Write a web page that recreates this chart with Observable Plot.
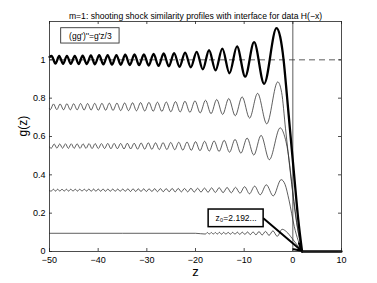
<!DOCTYPE html>
<html><head><meta charset="utf-8">
<script src="https://cdn.jsdelivr.net/npm/d3@7"></script>
<script src="https://cdn.jsdelivr.net/npm/@observablehq/plot@0.6"></script>
<style>body{margin:0;background:#fff}</style>
</head><body><div id="chart"></div>
<script>
const titleText = "m=1: shooting shock similarity profiles with interface for data H(\u2212x)";
const legendText = "(gg')''=g'z/3";
const annotText = "z\u2080=2.192...";
const xTicks = [-50, -40, -30, -20, -10, 0, 10];
const yTicks = [0, 0.2, 0.4, 0.6, 0.8, 1];

// curve with level ~1 (thick)
const zA = [-50,-49.57,-48.78,-48.01,-47.21,-46.42,-45.62,-44.81,-44.00,-43.19,-42.34,-41.50,-40.67,-39.79,-38.93,-38.05,-37.16,-36.25,-35.36,-34.44,-33.49,-32.54,-31.58,-30.61,-29.62,-28.61,-27.59,-26.54,-25.48,-24.40,-23.28,-22.14,-20.96,-19.76,-18.50,-17.22,-15.88,-14.49,-13.02,-11.47,-9.79,-7.96,-5.90,-3.36,-2.6,-1.9,-1.2,-0.6,0.3,1.1,1.9];
const gA = [1.015,1.020,0.980,1.020,0.979,1.021,0.979,1.021,0.978,1.022,0.978,1.023,0.977,1.024,0.976,1.025,0.975,1.025,0.974,1.027,0.973,1.028,0.972,1.029,0.970,1.031,0.968,1.033,0.966,1.035,0.964,1.038,0.961,1.042,0.950,1.050,0.945,1.058,0.930,1.070,0.912,1.092,0.875,1.165,1.12,1.0,0.81,0.64,0.39,0.17,0];

// level ~0.75
const zB = [-50,-49.84,-49.18,-48.49,-47.82,-47.11,-46.43,-45.72,-45.04,-44.32,-43.61,-42.89,-42.17,-41.45,-40.71,-39.97,-39.23,-38.46,-37.71,-36.95,-36.14,-35.37,-34.56,-33.76,-32.93,-32.13,-31.28,-30.43,-29.57,-28.69,-27.82,-26.91,-26.00,-25.07,-24.11,-23.15,-22.17,-21.15,-20.11,-19.04,-17.94,-16.81,-15.64,-14.42,-13.17,-11.83,-10.42,-8.89,-7.24,-5.36,-3.10,-2.3,-1.5,-0.5,0.6,1.9];
const gB = [0.745,0.740,0.770,0.740,0.770,0.739,0.771,0.739,0.771,0.739,0.772,0.738,0.772,0.738,0.773,0.737,0.773,0.737,0.774,0.736,0.774,0.735,0.775,0.735,0.776,0.734,0.777,0.733,0.778,0.732,0.779,0.731,0.780,0.729,0.782,0.728,0.784,0.726,0.786,0.723,0.789,0.719,0.793,0.715,0.798,0.708,0.807,0.696,0.825,0.666,0.885,0.83,0.64,0.41,0.18,0];

// level ~0.55
const zC = [-50,-49.63,-49.04,-48.48,-47.90,-47.31,-46.72,-46.13,-45.53,-44.94,-44.33,-43.71,-43.11,-42.49,-41.87,-41.25,-40.62,-39.97,-39.33,-38.68,-38.03,-37.38,-36.72,-36.05,-35.38,-34.69,-34.01,-33.32,-32.60,-31.90,-31.17,-30.44,-29.70,-28.97,-28.21,-27.44,-26.67,-25.88,-25.09,-24.26,-23.44,-22.61,-21.74,-20.87,-19.99,-19.08,-18.13,-17.17,-16.18,-15.16,-14.11,-13.01,-11.88,-10.67,-9.40,-8.02,-6.53,-4.83,-2.60,-1.8,-1.0,0.0,1.0,1.9];
const gC = [0.545,0.539,0.561,0.539,0.561,0.539,0.562,0.538,0.562,0.538,0.562,0.538,0.562,0.538,0.563,0.537,0.563,0.537,0.563,0.537,0.564,0.536,0.564,0.536,0.564,0.535,0.565,0.535,0.565,0.534,0.566,0.534,0.567,0.533,0.567,0.532,0.568,0.532,0.569,0.531,0.570,0.529,0.571,0.528,0.573,0.526,0.575,0.524,0.577,0.522,0.580,0.518,0.585,0.513,0.592,0.503,0.606,0.479,0.645,0.61,0.52,0.31,0.12,0];

// level ~0.32
const zD = [-50,-49.64,-49.20,-48.76,-48.32,-47.88,-47.43,-46.97,-46.53,-46.08,-45.63,-45.16,-44.71,-44.25,-43.78,-43.32,-42.85,-42.38,-41.91,-41.43,-40.94,-40.47,-39.98,-39.49,-39.00,-38.51,-38.00,-37.51,-37.01,-36.49,-35.99,-35.47,-34.95,-34.43,-33.90,-33.36,-32.83,-32.29,-31.75,-31.20,-30.65,-30.09,-29.54,-28.95,-28.39,-27.82,-27.21,-26.63,-26.02,-25.41,-24.79,-24.18,-23.55,-22.90,-22.26,-21.60,-20.94,-20.26,-19.57,-18.87,-18.15,-17.42,-16.69,-15.92,-15.14,-14.33,-13.51,-12.65,-11.78,-10.86,-9.91,-8.91,-7.85,-6.70,-5.45,-4.03,-2.40,-1.6,-0.8,0.3,1.9];
const gD = [0.317,0.315,0.325,0.315,0.325,0.315,0.325,0.315,0.325,0.315,0.325,0.315,0.325,0.315,0.325,0.315,0.325,0.315,0.326,0.314,0.326,0.314,0.326,0.314,0.326,0.314,0.326,0.314,0.326,0.314,0.326,0.314,0.326,0.314,0.327,0.313,0.327,0.313,0.327,0.313,0.327,0.313,0.327,0.313,0.328,0.312,0.328,0.312,0.328,0.312,0.329,0.311,0.329,0.311,0.329,0.311,0.330,0.310,0.330,0.310,0.331,0.309,0.332,0.308,0.333,0.307,0.334,0.306,0.335,0.304,0.338,0.301,0.341,0.296,0.348,0.290,0.375,0.35,0.27,0.13,0];

// level ~0.095
const zE = [-50,-20,-17.96,-17.57,-17.16,-16.76,-16.34,-15.93,-15.51,-15.09,-14.65,-14.21,-13.75,-13.29,-12.84,-12.36,-11.89,-11.40,-10.90,-10.39,-9.85,-9.31,-8.75,-8.17,-7.58,-6.96,-6.31,-5.62,-4.89,-4.09,-3.22,-2.20,-1.3,-0.2,1.0,1.9];
const gE = [0.095,0.095,0.091,0.099,0.091,0.099,0.091,0.099,0.091,0.100,0.090,0.100,0.090,0.100,0.090,0.100,0.090,0.101,0.089,0.101,0.089,0.102,0.088,0.102,0.087,0.104,0.086,0.105,0.084,0.108,0.079,0.116,0.103,0.07,0.03,0];

// zero state ahead of the front
const zTail = [1.9, 10];
const gTail = [0, 0];

const legendBox = {x1: -47.6, x2: -35.6, y1: 1.085, y2: 1.165};
const annotBox = {x1: -17.3, x2: -6.0, y1: 0.127, y2: 0.219};
const arrowSeg = {x1: -6.0, y1: 0.172, x2: 1.8, y2: 0.004};

const fmt = d => (d < 0 ? "\u2212" + (-d) : String(d));
const W = 377, H = 283, mL = 49, mR = 36, mT = 21, mB = 32;
const fw = W - mL - mR, fh = H - mT - mB;
const thin = {stroke: "#2a2a2a", strokeWidth: 0.75, curve: "monotone-x"};

const chart = Plot.plot({
  width: W, height: H,
  marginLeft: mL, marginRight: mR, marginTop: mT, marginBottom: mB,
  x: {domain: [-50, 10]},
  y: {domain: [0, 1.2]},
  style: {fontFamily: "'Liberation Sans', Arial, sans-serif", fontSize: "9px", background: "#fff", color: "#000"},
  marks: [
    Plot.ruleX([0], {stroke: "#333", strokeWidth: 0.8}),
    Plot.ruleY([1], {stroke: "#333", strokeWidth: 0.8, strokeDasharray: "6,4"}),
    Plot.line(gE, {x: zE, y: gE, ...thin}),
    Plot.line(gD, {x: zD, y: gD, ...thin}),
    Plot.line(gC, {x: zC, y: gC, ...thin}),
    Plot.line(gB, {x: zB, y: gB, ...thin}),
    Plot.line(gA, {x: zA, y: gA, stroke: "#000", strokeWidth: 2.3, curve: "monotone-x"}),
    Plot.line(gTail, {x: zTail, y: gTail, stroke: "#000", strokeWidth: 2.3}),
    Plot.frame({stroke: "#222", strokeWidth: 0.8}),
    Plot.ruleX(xTicks, {insetTop: fh - 3, stroke: "#222", strokeWidth: 0.8}),
    Plot.ruleX(xTicks, {insetBottom: fh - 3, stroke: "#222", strokeWidth: 0.8}),
    Plot.ruleY(yTicks, {insetRight: fw - 3, stroke: "#222", strokeWidth: 0.8}),
    Plot.ruleY(yTicks, {insetLeft: fw - 3, stroke: "#222", strokeWidth: 0.8}),
    Plot.axisX({ticks: xTicks, tickSize: 0, tickPadding: 5, tickFormat: fmt, label: null, fontSize: 9}),
    Plot.axisY({ticks: yTicks, tickSize: 0, tickPadding: 4, tickFormat: fmt, label: null, fontSize: 9}),
    Plot.rect([legendBox], {x1: "x1", x2: "x2", y1: "y1", y2: "y2", fill: "#fff", stroke: "#333", strokeWidth: 0.9}),
    Plot.text([legendText], {x: (legendBox.x1 + legendBox.x2) / 2, y: (legendBox.y1 + legendBox.y2) / 2, fontSize: 8.5, fill: "#000"}),
    Plot.arrow([arrowSeg], {x1: "x1", y1: "y1", x2: "x2", y2: "y2", stroke: "#000", strokeWidth: 2, headLength: 6}),
    Plot.rect([annotBox], {x1: "x1", x2: "x2", y1: "y1", y2: "y2", fill: "#fff", stroke: "#000", strokeWidth: 1.5}),
    Plot.text([annotText], {x: (annotBox.x1 + annotBox.x2) / 2, y: (annotBox.y1 + annotBox.y2) / 2, fontSize: 8.5, fill: "#000"}),
    Plot.text([titleText], {frameAnchor: "top", dy: -9, fontSize: 8.6, fill: "#000"}),
    Plot.text(["g(z)"], {frameAnchor: "left", rotate: -90, dx: -26, fontSize: 12, fill: "#000"}),
    Plot.text(["z"], {frameAnchor: "bottom", dy: 24, fontSize: 13, fill: "#000"})
  ]
});
document.getElementById("chart").appendChild(chart);
</script>
</body></html>
